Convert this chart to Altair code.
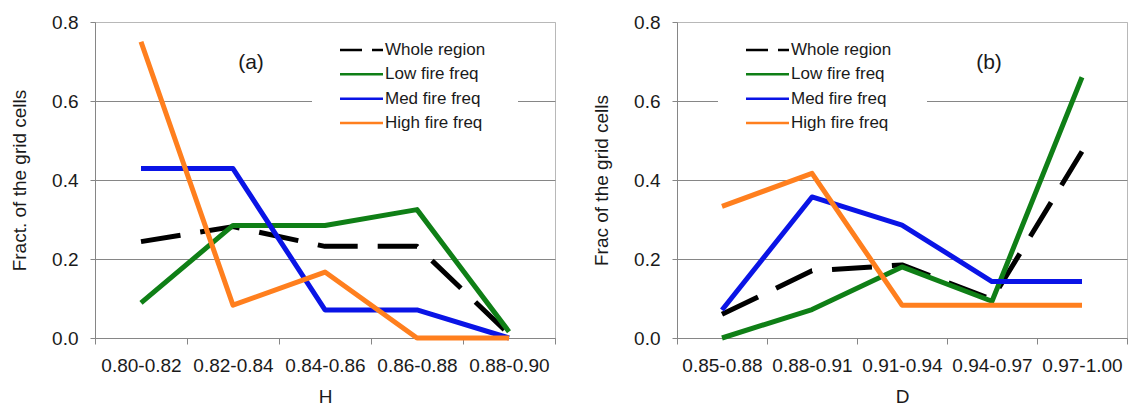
import altair as alt
import pandas as pd

FONT = "Liberation Sans"

series = ["Whole region", "Low fire freq", "Med fire freq", "High fire freq"]
colors = ["#000000", "#0f7f16", "#0a14e6", "#ff7f1e"]

h_bins = ["0.80-0.82", "0.82-0.84", "0.84-0.86", "0.86-0.88", "0.88-0.90"]
h_whole = [0.244, 0.282, 0.232, 0.232, 0.01]
h_low = [0.089, 0.285, 0.285, 0.325, 0.016]
h_med = [0.429, 0.429, 0.071, 0.071, 0.0]
h_high = [0.75, 0.083, 0.167, 0.0, 0.0]

d_bins = ["0.85-0.88", "0.88-0.91", "0.91-0.94", "0.94-0.97", "0.97-1.00"]
d_whole = [0.06, 0.17, 0.185, 0.098, 0.472]
d_low = [0.0, 0.072, 0.18, 0.093, 0.66]
d_med = [0.071, 0.357, 0.286, 0.143, 0.143]
d_high = [0.333, 0.417, 0.083, 0.083, 0.083]

y_ticks = [0.0, 0.2, 0.4, 0.6, 0.8]

H = 316
TEXT = "#1a1a1a"
GRID = "#868686"
BORDER = "#b8b8b8"


def panel(bins, values, xtitle, ytitle, tag, width, tag_x, leg_x, gap_x0, gap_x1):
    rows = []
    for s, vals in zip(series, values):
        for b, v in zip(bins, vals):
            rows.append({"series": s, "bin": b, "value": v})
    df = pd.DataFrame(rows)

    xenc = alt.X(
        "bin:N",
        sort=bins,
        title=xtitle,
        bandPosition=0.5,
        scale=alt.Scale(domain=bins, paddingInner=0, paddingOuter=0),
        axis=alt.Axis(
            labelAngle=0, tickBand="extent", tickSize=6, labelPadding=12,
            titlePadding=12, labelOverlap=False, grid=False,
        ),
    )
    yenc = alt.Y(
        "value:Q",
        title=ytitle,
        scale=alt.Scale(domain=[0, 0.8], nice=False, zero=True),
        axis=alt.Axis(values=y_ticks, format=".1f", tickSize=5, labelPadding=12,
                      titlePadding=22, grid=True,
                      gridColor=alt.condition("datum.value >= 0.79",
                                              alt.value(BORDER), alt.value(GRID))),
    )
    color = alt.Color("series:N", scale=alt.Scale(domain=series, range=colors), legend=None)

    line_layers = []
    for s in series:
        kw = dict(strokeWidth=5, strokeJoin="round", strokeCap="butt")
        if s == "Whole region":
            kw["strokeDash"] = [40, 20]
        line_layers.append(
            alt.Chart(df).transform_filter(alt.datum.series == s)
            .mark_line(**kw).encode(x=xenc, y=yenc, color=color)
        )
    data_layer = alt.layer(*line_layers)

    one = pd.DataFrame({"k": [0]})
    gap = alt.Chart(one).mark_rect(color="white").encode(
        x=alt.value(gap_x0), x2=alt.value(gap_x1), y=alt.value(74), y2=alt.value(84)
    )

    leg_df = pd.DataFrame({"series": series, "row": list(range(len(series)))})
    yrow = alt.Y("row:O", axis=None,
                 scale=alt.Scale(type="point", domain=[0, 1, 2, 3], range=[28, 101], padding=0))
    leg_rule = alt.Chart(leg_df).mark_rule(strokeWidth=2.5).encode(
        x=alt.value(leg_x), x2=alt.value(leg_x + 43), y=yrow,
        color=color,
        strokeDash=alt.condition(alt.datum.series == "Whole region",
                                 alt.value([22, 10]), alt.value([1, 0])),
    )
    leg_text = alt.Chart(leg_df).mark_text(
        align="left", baseline="middle", fontSize=17, font=FONT, color=TEXT
    ).encode(x=alt.value(leg_x + 45), y=yrow, text="series:N")
    legend = alt.layer(leg_rule, leg_text)

    tag_mark = alt.Chart(one).mark_text(
        fontSize=21, font=FONT, color=TEXT, baseline="middle", align="center"
    ).encode(x=alt.value(tag_x), y=alt.value(41), text=alt.value(tag))

    return alt.layer(gap, data_layer, legend, tag_mark).resolve_scale(
        y="independent"
    ).properties(width=width, height=H)


left = panel(h_bins, [h_whole, h_low, h_med, h_high], "H", "Fract. of the grid cells",
             "(a)", 460, 156, 245, 217, 423)
right = panel(d_bins, [d_whole, d_low, d_med, d_high], "D", "Frac of the grid cells",
              "(b)", 450, 312, 69, 41, 250)

chart = alt.hconcat(left, right, spacing=36).properties(
    padding={"left": 2, "top": 4, "right": 0, "bottom": 0},
    background="white",
).configure_axis(
    labelFont=FONT, titleFont=FONT, labelFontSize=19, titleFontSize=19,
    labelColor=TEXT, titleColor=TEXT, titleFontWeight="normal",
    domainColor=GRID, tickColor=GRID, gridWidth=1,
    gridOpacity=1, domainOpacity=1, tickOpacity=1,
).configure_view(stroke=BORDER)

chart.save("out.html", embed_options={"renderer": "svg", "actions": False})
